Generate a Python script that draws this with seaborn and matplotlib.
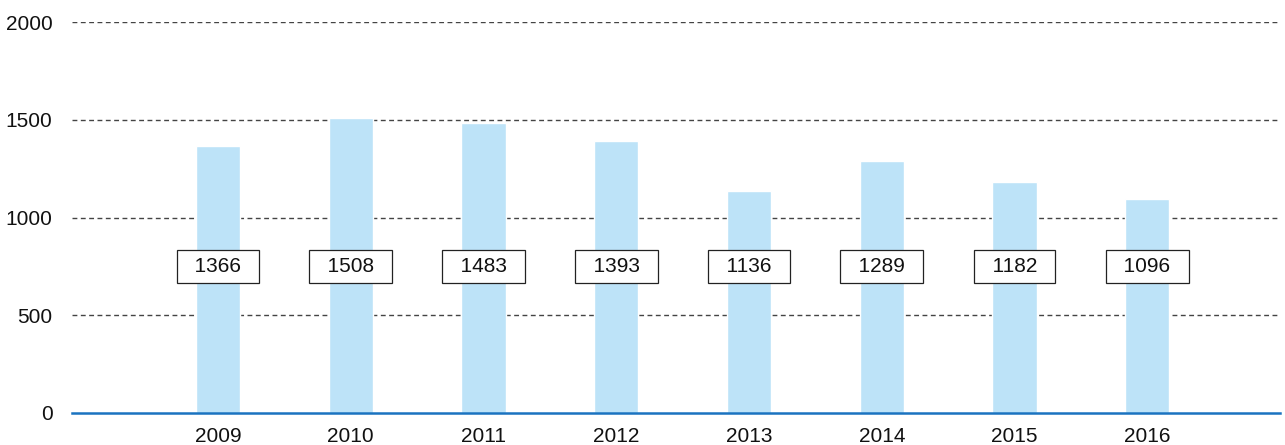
import matplotlib
matplotlib.use("Agg")
import matplotlib.pyplot as plt
import seaborn as sns
import pandas as pd

years = ["2009", "2010", "2011", "2012", "2013", "2014", "2015", "2016"]
values = [1366, 1508, 1483, 1393, 1136, 1289, 1182, 1096]
y_ticks = [0, 500, 1000, 1500, 2000]
label_level = 750

sns.set_style("white")
plt.rcParams['font.family'] = ['Liberation Sans', 'DejaVu Sans']

df = pd.DataFrame({"year": years, "value": values})

fig = plt.figure(figsize=(12.85, 4.45), dpi=100)
ax = fig.add_axes([72 / 1285, 32 / 445, 1208 / 1285, 391 / 445])

sns.barplot(data=df, x="year", y="value", color="#bde3f8", saturation=1,
            width=0.335, ax=ax, zorder=3)

for yt in y_ticks[1:]:
    ax.axhline(yt, color="#444444", lw=1.0, ls=(0, (3.5, 2.5)), zorder=1)

for i, v in enumerate(values):
    ax.text(i, label_level, "  {0}  ".format(v), ha="center", va="center",
            fontsize=15, color="#111111", zorder=5,
            bbox=dict(boxstyle="square,pad=0.32", fc="white", ec="#222222", lw=0.9))

ax.set_xlim(-1.1, 8.0)
ax.set_ylim(0, 2000)
ax.set_yticks(y_ticks)
ax.set_xlabel("")
ax.set_ylabel("")
ax.tick_params(axis="both", length=0, labelsize=15, colors="#111111")
ax.tick_params(axis="y", pad=14)
ax.tick_params(axis="x", pad=10)
for s in ["left", "right", "top"]:
    ax.spines[s].set_visible(False)
ax.spines["bottom"].set_color("#1a73c0")
ax.spines["bottom"].set_linewidth(1.8)
ax.spines["bottom"].set_zorder(6)

fig.savefig("out.png", dpi=100)
